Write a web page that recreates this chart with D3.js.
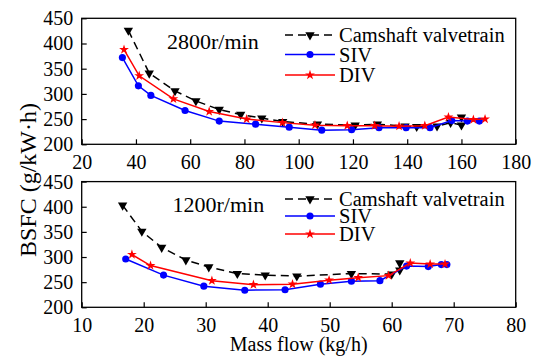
<!DOCTYPE html>
<html>
<head>
<meta charset="utf-8">
<script src="https://cdn.jsdelivr.net/npm/d3@7"></script>
<style>
	body { margin: 0; background: #fff; }
	text { font-family: "Liberation Serif", "Times New Roman", serif; fill: #000; }
</style>
</head>
<body>
<div id="chart"></div>
<script>
// 2800 r/min panel
var cam2800X = [37.2, 44.9, 54.4, 62.1, 70.7, 78.6, 86.4, 94.1, 106.9, 120.8, 129, 139.2, 143.5, 151, 156, 160, 160];
var cam2800Y = [426, 341, 306, 286, 269, 259, 252, 245, 240, 238, 240, 236, 235, 236, 243, 238, 254];
var siv2800X = [35, 40.9, 45.5, 58.1, 70.7, 84.1, 96.5, 108.5, 119.5, 129.6, 139.6, 148.4, 156.4, 162.2, 166.6];
var siv2800Y = [372, 316, 297, 267, 246, 240, 234, 228, 229, 233, 233, 233, 247, 246, 246];
var div2800X = [35.6, 41.2, 53.8, 67, 80.8, 94, 106, 117.9, 128, 137, 146.5, 155.2, 164.4, 168.7];
var div2800Y = [388, 336, 290, 265, 250, 243, 238, 237, 237, 236, 237, 254, 249, 250];

// 1200 r/min panel
var cam1200X = [16.6, 19.7, 22.9, 26.8, 30.5, 35.1, 39.6, 44.7, 53.5, 60, 61.3, 61.3];
var cam1200Y = [403, 351, 319, 294, 280, 267, 264, 262, 267, 266, 274, 288];
var siv1200X = [17.1, 23.2, 29.7, 36.3, 42.8, 48.5, 53.5, 58.1, 62.4, 65.9, 68, 68.9];
var siv1200Y = [296, 264, 242, 234, 235, 246, 252, 253, 282, 281, 285, 285];
var div1200X = [18.1, 21.1, 31, 37.7, 44, 49.9, 54.6, 59.5, 63, 66.2, 68.6];
var div1200Y = [305, 283, 253, 245, 246, 254, 259, 263, 288, 286, 286];

var xTicks2800 = [20, 40, 60, 80, 100, 120, 140, 160, 180];
var xTicks1200 = [10, 20, 30, 40, 50, 60, 70, 80];
var yTicks = [200, 250, 300, 350, 400, 450];
var seriesNames = ["Camshaft valvetrain", "SIV", "DIV"];

var W = 539, H = 360;
var LEFT = 81.7, RIGHT = 515.7;

var svg = d3.select("#chart").append("svg")
	.attr("width", W)
	.attr("height", H);

var styles = [
	{ color: "#000", dash: "8,5", symbol: "tri", size: 38 },
	{ color: "#0000ff", dash: null, symbol: d3.symbolCircle, size: 40 },
	{ color: "#ff0000", dash: null, symbol: d3.symbolStar, size: 30 }
];

function markerPath(st) {
	if (st.symbol == "tri") {
		return d3.symbol().type(d3.symbolTriangle).size(st.size)();
	}
	return d3.symbol().type(st.symbol).size(st.size)();
}

function zip(xs, ys) {
	return xs.map(function (v, i) { return [v, ys[i]]; });
}

var drawPanel = function (cfg) {
	var x = d3.scaleLinear().domain([cfg.xTicks[0], cfg.xTicks[cfg.xTicks.length - 1]]).range([LEFT, RIGHT]);
	var y = d3.scaleLinear().domain([200, 450]).range([cfg.bottom, cfg.top]);
	var g = svg.append("g");

	var xAxis = g.append("g")
		.attr("transform", "translate(0," + cfg.bottom + ")")
		.call(d3.axisBottom(x).tickValues(cfg.xTicks).tickSizeInner(-5).tickSizeOuter(0).tickPadding(11));
	var yAxis = g.append("g")
		.attr("transform", "translate(" + LEFT + ",0)")
		.call(d3.axisLeft(y).tickValues(yTicks).tickSizeInner(-5).tickSizeOuter(0).tickPadding(8.5));
	[xAxis, yAxis].forEach(function (a) {
		a.select(".domain").remove();
		a.selectAll("line").attr("stroke", "#000").attr("stroke-width", 1.2);
		a.selectAll("text").style("font-size", "20px").attr("font-family", null);
	});

	g.append("rect")
		.attr("x", LEFT).attr("y", cfg.top)
		.attr("width", RIGHT - LEFT).attr("height", cfg.bottom - cfg.top)
		.attr("fill", "none").attr("stroke", "#000").attr("stroke-width", 1.3);

	var line = d3.line().x(function (d) { return x(d[0]); }).y(function (d) { return y(d[1]); });

	cfg.series.forEach(function (pts, i) {
		var st = styles[i];
		g.append("path")
			.datum(pts)
			.attr("d", line)
			.attr("fill", "none")
			.attr("stroke", st.color)
			.attr("stroke-width", 1.5)
			.attr("stroke-dasharray", st.dash);
		g.selectAll(".m" + i)
			.data(pts)
			.enter().append("path")
			.attr("d", markerPath(st))
			.attr("fill", st.color)
			.attr("transform", function (d) {
				return "translate(" + x(d[0]) + "," + y(d[1]) + ")" + (st.symbol == "tri" ? " rotate(180)" : "");
			});
	});

	g.append("text")
		.attr("x", cfg.labelX).attr("y", cfg.labelY)
		.style("font-size", "22px")
		.text(cfg.label);

	// legend
	cfg.legendRows.forEach(function (ry, i) {
		var st = styles[i];
		g.append("line")
			.attr("x1", 285).attr("x2", 335).attr("y1", ry).attr("y2", ry)
			.attr("stroke", st.color).attr("stroke-width", 1.5)
			.attr("stroke-dasharray", st.dash);
		g.append("path")
			.attr("d", markerPath(st))
			.attr("fill", st.color)
			.attr("transform", "translate(310," + ry + ")" + (st.symbol == "tri" ? " rotate(180)" : ""));
		g.append("text")
			.attr("x", 339).attr("y", ry + 7)
			.style("font-size", "20.5px")
			.text(seriesNames[i]);
	});
};

drawPanel({
	xTicks: xTicks2800, top: 18.3, bottom: 144.3,
	series: [zip(cam2800X, cam2800Y), zip(siv2800X, siv2800Y), zip(div2800X, div2800Y)],
	label: "2800r/min", labelX: 167, labelY: 48.5,
	legendRows: [35, 54.5, 75]
});

drawPanel({
	xTicks: xTicks1200, top: 181.6, bottom: 307.3,
	series: [zip(cam1200X, cam1200Y), zip(siv1200X, siv1200Y), zip(div1200X, div1200Y)],
	label: "1200r/min", labelX: 172.5, labelY: 211.5,
	legendRows: [199, 216, 234]
});

svg.append("text")
	.attr("transform", "translate(36,180) rotate(-90)")
	.attr("text-anchor", "middle")
	.style("font-size", "24px")
	.text("BSFC (g/kW·h)");

svg.append("text")
	.attr("x", (LEFT + RIGHT) / 2).attr("y", 351)
	.attr("text-anchor", "middle")
	.style("font-size", "20px")
	.text("Mass flow (kg/h)");
</script>
</body>
</html>
